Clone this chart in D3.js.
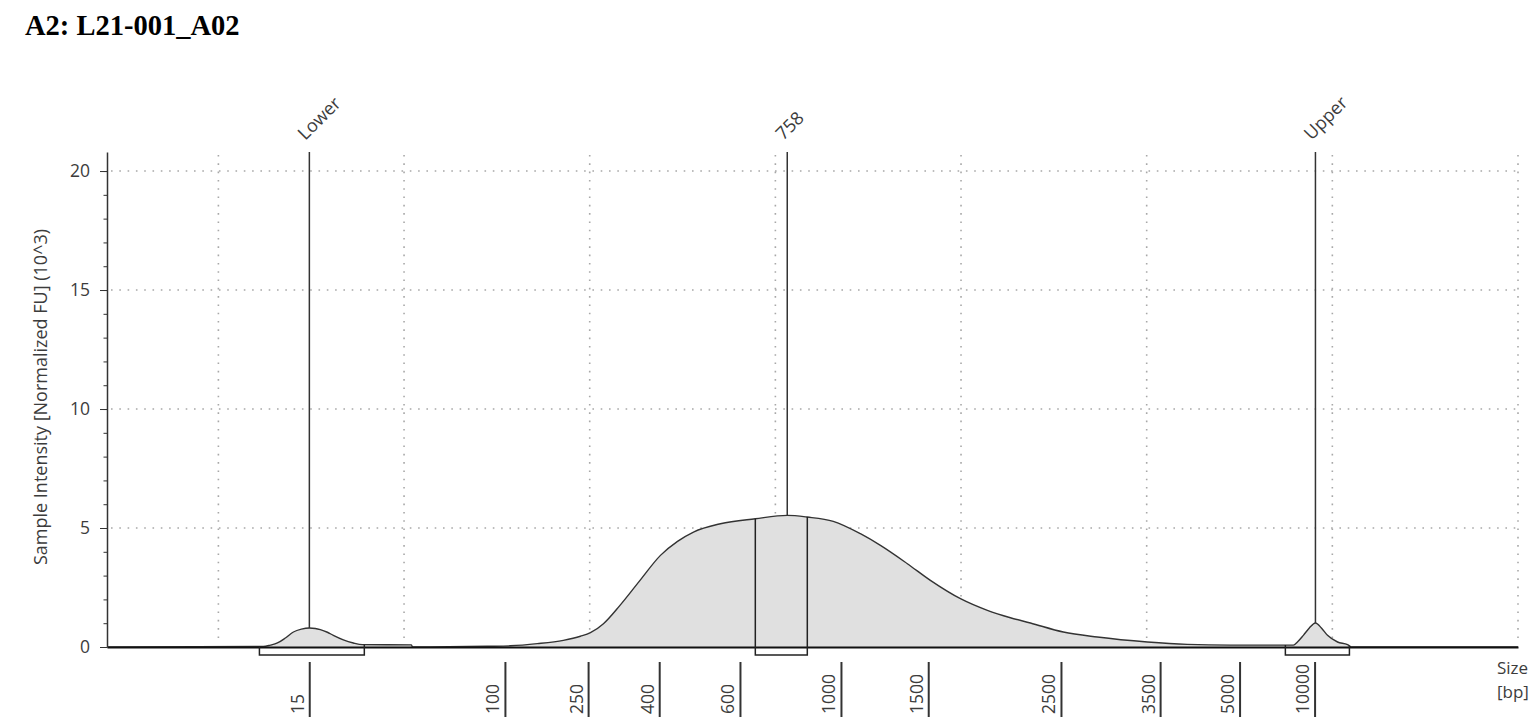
<!DOCTYPE html>
<html>
<head>
<meta charset="utf-8">
<script src="https://cdn.jsdelivr.net/npm/d3@7"></script>
<style>
  html, body { margin: 0; padding: 0; background: #fff; }
  svg { display: block; }
  text { font-family: "Open Sans", sans-serif; fill: #3c3c3c; }
</style>
</head>
<body>
<svg id="chart" width="1538" height="723"></svg>
<script>
// run position (grid units) vs intensity (10^3 normalized FU)
const tracePos = [0.402, 1.242, 1.280, 1.318, 1.361, 1.404, 1.447, 1.490, 1.522, 1.549, 1.587, 1.619, 1.673, 1.727, 1.776,
  2.040, 2.045, 2.449, 2.573, 2.718, 2.858, 2.950, 3.004, 3.074, 3.163, 3.271, 3.381, 3.473, 3.559, 3.704, 3.892,
  4.064, 4.172, 4.312, 4.458, 4.566, 4.711, 4.835, 4.997, 5.142, 5.266, 5.374, 5.551, 5.734, 6.004, 6.219, 6.451,
  6.790, 6.812, 6.844, 6.876, 6.909, 6.941, 6.974, 7.028, 7.082, 7.092, 7.100, 8.000]
const traceVal = [0, 0.02, 0.08, 0.17, 0.38, 0.63, 0.75, 0.80, 0.78, 0.73, 0.62, 0.49, 0.30, 0.17, 0.10,
  0.09, 0, 0.03, 0.05, 0.14, 0.28, 0.45, 0.60, 0.98, 1.75, 2.80, 3.85, 4.44, 4.83, 5.18, 5.39,
  5.53, 5.46, 5.28, 4.76, 4.27, 3.50, 2.80, 2.03, 1.54, 1.23, 1.01, 0.63, 0.42, 0.21, 0.11, 0.08,
  0.08, 0.21, 0.49, 0.80, 1.01, 0.80, 0.49, 0.21, 0.10, 0.05, 0, 0]

// ladder sizes and where they sit on the run axis
const ladderSizes = ['15', '100', '250', '400', '600', '1000', '1500', '2500', '3500', '5000', '10000']
const ladderPos = [1.492, 2.546, 2.994, 3.377, 3.812, 4.356, 4.826, 5.541, 6.075, 6.503, 6.907]

// called peaks
const peakNames = ['Lower', '758', 'Upper']
const peakPos = [1.490, 4.064, 6.909]
const peakVal = [0.80, 5.53, 1.01]
const regionFrom = [1.221, 3.892, 6.747]
const regionTo = [1.786, 4.172, 7.092]

const yTicks = [0, 5, 10, 15, 20]
const gridPos = [1, 2, 3, 4, 5, 6, 7, 8]

const svg = d3.select('#chart')

const x = d3.scaleLinear().domain([0.4, 8.0]).range([107, 1518])
const y = d3.scaleLinear().domain([0, 20.8]).range([647, 152])

const trace = tracePos.map((p, i) => ({p, v: traceVal[i]}))
const valAt = p => {
  const i = d3.bisector(d => d.p).left(trace, p)
  if(i <= 0) return trace[0].v
  if(i >= trace.length) return trace[trace.length - 1].v
  const a = trace[i - 1], b = trace[i]
  return a.v + (b.v - a.v) * (p - a.p) / (b.p - a.p)
}

svg.append('text')
  .text('A2: L21-001_A02')
  .attr('x', 25)
  .attr('y', 35)
  .style('font-family', '"Liberation Serif", "Times New Roman", serif')
  .style('font-weight', 'bold')
  .style('font-size', '28.5px')
  .style('fill', '#000')

// grid
const grid = svg.append('g')
  .attr('stroke', '#a8a8a8')
  .attr('stroke-width', 1.6)
  .attr('stroke-dasharray', '1.6,6.7')
grid.selectAll('.hg')
  .data(yTicks.filter(d => d > 0))
  .enter()
  .append('line')
  .attr('x1', x(0.4) + 4)
  .attr('x2', x(8.0))
  .attr('y1', d => y(d))
  .attr('y2', d => y(d))
grid.selectAll('.vg')
  .data(gridPos)
  .enter()
  .append('line')
  .attr('x1', d => x(d))
  .attr('x2', d => x(d))
  .attr('y1', y(20.8) + 3)
  .attr('y2', y(0) - 6)

// trace
const area = d3.area()
  .x(d => x(d.p))
  .y0(y(0))
  .y1(d => y(d.v))
  .curve(d3.curveMonotoneX)
const line = d3.line()
  .x(d => x(d.p))
  .y(d => y(d.v))
  .curve(d3.curveMonotoneX)

svg.append('path')
  .datum(trace)
  .attr('d', area)
  .attr('fill', '#e0e0e0')
svg.append('path')
  .datum(trace)
  .attr('d', line)
  .attr('fill', 'none')
  .attr('stroke', '#333')
  .attr('stroke-width', 1.4)

// x baseline
svg.append('g')
  .attr('transform', `translate(0 ${y(0)})`)
  .call(d3.axisBottom(x).tickValues([]).tickSizeOuter(0))
  .call(g => g.select('.domain').attr('stroke', '#111').attr('stroke-width', 2))

// y axis: minor ticks, then major ticks with labels
svg.append('g')
  .attr('transform', `translate(${x(0.4)} 0)`)
  .call(d3.axisLeft(y).tickValues(d3.range(0, 21)).tickSize(3.5).tickSizeOuter(0).tickFormat(''))
  .call(g => g.selectAll('line').attr('stroke', '#333'))
  .call(g => g.select('.domain').attr('stroke', '#333').attr('stroke-width', 1.5))
svg.append('g')
  .attr('transform', `translate(${x(0.4)} 0)`)
  .call(d3.axisLeft(y).tickValues(yTicks).tickSize(7).tickSizeOuter(0).tickPadding(10))
  .call(g => g.select('.domain').remove())
  .call(g => g.selectAll('line').attr('stroke', '#333'))
  .call(g => g.selectAll('text').style('font-size', '17.5px').style('font-family', '"Open Sans", sans-serif').attr('fill', '#3c3c3c'))

svg.append('text')
  .text('Sample Intensity [Normalized FU] (10^3)')
  .attr('transform', `translate(47 397) rotate(-90)`)
  .attr('text-anchor', 'middle')
  .style('font-size', '18px')

// peak markers and labels
peakNames.forEach((name, i) => {
  const px = x(peakPos[i])
  svg.append('line')
    .attr('x1', px).attr('x2', px)
    .attr('y1', y(20.8))
    .attr('y2', y(peakVal[i]))
    .attr('stroke', '#333')
    .attr('stroke-width', 1.5)
  svg.append('text')
    .text(name)
    .attr('transform', `translate(${px - 4} 141) rotate(-45)`)
    .style('font-size', '18px')
})

// integration regions
const boxBottom = y(0) + 8
regionFrom.forEach((from, i) => {
  const x0 = x(from), x1 = x(regionTo[i])
  svg.append('path')
    .attr('d', `M${x0},${y(valAt(from))}V${boxBottom}H${x1}V${y(valAt(regionTo[i]))}`)
    .attr('fill', 'none')
    .attr('stroke', '#222')
    .attr('stroke-width', 1.5)
})

// ladder ticks
const ladder = svg.append('g')
ladderSizes.forEach((s, i) => {
  const px = x(ladderPos[i])
  ladder.append('line')
    .attr('x1', px).attr('x2', px)
    .attr('y1', 662).attr('y2', 717)
    .attr('stroke', '#333')
    .attr('stroke-width', 2)
  ladder.append('text')
    .text(s)
    .attr('transform', `translate(${px - 6} 714) rotate(-90)`)
    .style('font-size', '17.5px')
})

svg.append('text').text('Size').attr('x', 1497).attr('y', 674).style('font-size', '17px')
svg.append('text').text('[bp]').attr('x', 1497).attr('y', 698).style('font-size', '17px')
</script>
</body>
</html>
